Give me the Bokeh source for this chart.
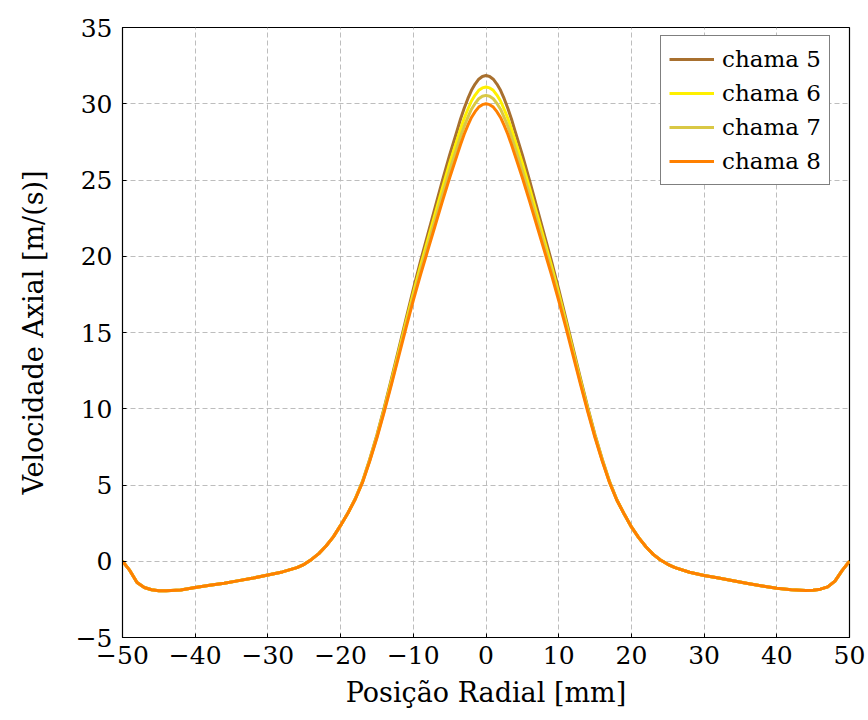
from bokeh.plotting import figure
from bokeh.models import Range1d, FixedTicker, Legend, LegendItem
from bokeh.embed import file_html
from bokeh.resources import INLINE

# ---- data ----
X_LEFT = [-50, -49, -48, -47, -46, -45, -44, -42, -40, -38, -36, -34, -32, -30,
          -28, -26, -25, -24, -23, -22, -21, -20]
Y_LEFT = [0.0, -0.6, -1.4, -1.72, -1.87, -1.93, -1.94, -1.88, -1.72, -1.58, -1.44,
          -1.27, -1.1, -0.9, -0.7, -0.42, -0.2, 0.12, 0.5, 1.0, 1.6, 2.35]

X_CORE = [-19, -18, -17, -16, -15, -14, -13, -12, -11, -10, -9, -8, -7, -6, -5, -4,
          -3.5, -3, -2.5, -2, -1.5, -1, -0.5, 0, 0.5, 1, 1.5, 2, 2.5, 3, 3.5,
          4, 5, 6, 7, 8, 9, 10, 11, 12, 13, 14, 15, 16, 17, 18, 19]
CORE_5 = [3.16, 4.08, 5.22, 6.67, 8.29, 10.07, 11.97, 13.93, 15.9, 17.85, 19.7, 21.45,
          23.2, 24.95, 26.65, 28.2,
          29.0, 29.7, 30.33, 30.88, 31.29, 31.61, 31.79, 31.85, 31.79, 31.61, 31.29,
          30.88, 30.33, 29.7, 29.0,
          28.2, 26.65, 24.95, 23.2, 21.45, 19.7, 17.85, 15.9, 13.93, 11.97, 10.07,
          8.29, 6.67, 5.22, 4.03, 3.11]
CORE_6 = [3.15, 4.07, 5.2, 6.63, 8.22, 9.97, 11.84, 13.76, 15.69, 17.58, 19.38, 21.08,
          22.78, 24.47, 26.1, 27.6,
          28.35, 29.05, 29.64, 30.18, 30.57, 30.88, 31.04, 31.1, 31.04, 30.88, 30.57,
          30.18, 29.64, 29.05, 28.35,
          27.6, 26.1, 24.47, 22.78, 21.08, 19.38, 17.58, 15.69, 13.76, 11.84, 9.97,
          8.22, 6.63, 5.2, 4.02, 3.1]
CORE_7 = [3.15, 4.06, 5.17, 6.59, 8.16, 9.89, 11.72, 13.61, 15.5, 17.34, 19.09, 20.74,
          22.39, 24.04, 25.63, 27.11,
          27.85, 28.53, 29.11, 29.64, 30.02, 30.33, 30.49, 30.55, 30.49, 30.33, 30.02,
          29.64, 29.11, 28.53, 27.85,
          27.11, 25.63, 24.04, 22.39, 20.74, 19.09, 17.34, 15.5, 13.61, 11.72, 9.89,
          8.16, 6.59, 5.17, 4.01, 3.1]
CORE_8 = [3.15, 4.05, 5.15, 6.55, 8.1, 9.8, 11.6, 13.45, 15.3, 17.1, 18.8, 20.4,
          22.0, 23.6, 25.15, 26.6,
          27.33, 28.0, 28.58, 29.1, 29.48, 29.78, 29.94, 30.0, 29.94, 29.78, 29.48,
          29.1, 28.58, 28.0, 27.33,
          26.6, 25.15, 23.6, 22.0, 20.4, 18.8, 17.1, 15.3, 13.45, 11.6, 9.8,
          8.1, 6.55, 5.15, 4.0, 3.1]

X_RIGHT = [20, 21, 22, 23, 24, 25, 26, 28, 30, 32, 34, 36, 38, 40, 42, 44, 45, 46,
           47, 48, 49, 50]
Y_RIGHT = [2.25, 1.55, 0.95, 0.45, 0.08, -0.2, -0.42, -0.72, -0.93, -1.1, -1.28,
           -1.46, -1.62, -1.77, -1.87, -1.92, -1.9, -1.83, -1.68, -1.3, -0.6, 0.0]

SERIES_NAMES = ["chama 5", "chama 6", "chama 7", "chama 8"]
SERIES_CORES = [CORE_5, CORE_6, CORE_7, CORE_8]
SERIES_COLORS = ["#A8702F", "#FFF000", "#D9C845", "#FF8000"]

X_TICKS = list(range(-50, 51, 10))
Y_TICKS = list(range(-5, 36, 5))

FONT = "DejaVu Serif"

p = figure(width=868, height=720, output_backend="svg", toolbar_location=None,
           x_range=Range1d(-50, 50), y_range=Range1d(-5, 35),
           min_border_left=122, min_border_right=19, min_border_top=27,
           min_border_bottom=83)
p.background_fill_color = "white"
p.border_fill_color = "white"
p.outline_line_color = "black"
p.outline_line_width = 1.2
p.outline_line_alpha = 1.0

x_all = X_LEFT + X_CORE + X_RIGHT
items = []
for name, core, color in zip(SERIES_NAMES, SERIES_CORES, SERIES_COLORS):
    y_all = Y_LEFT + core + Y_RIGHT
    r = p.line(x_all, y_all, line_color=color, line_width=3, line_join="round")
    items.append(LegendItem(label=name, renderers=[r]))

def minus(v):
    return str(v).replace("-", "\u2212")

p.xaxis.ticker = FixedTicker(ticks=X_TICKS)
p.yaxis.ticker = FixedTicker(ticks=Y_TICKS)
p.xaxis.major_label_overrides = {v: minus(v) for v in X_TICKS}
p.yaxis.major_label_overrides = {v: minus(v) for v in Y_TICKS}
for ax in (p.xaxis[0], p.yaxis[0]):
    ax.major_label_text_font = FONT
    ax.major_label_text_font_size = "25px"
    ax.major_label_text_color = "black"
    ax.axis_label_text_font = FONT
    ax.axis_label_text_font_size = "27px"
    ax.axis_label_text_font_style = "normal"
    ax.axis_label_text_color = "black"
    ax.major_tick_in = 4
    ax.major_tick_out = 0
    ax.minor_tick_in = 0
    ax.minor_tick_out = 0
    ax.axis_line_color = "black"
    ax.major_tick_line_color = "black"
p.xaxis.axis_label = "Posição Radial [mm]"
p.yaxis.axis_label = "Velocidade Axial [m/(s)]"
p.xaxis.major_label_standoff = 8
p.yaxis.major_label_standoff = 10
p.xaxis.axis_label_standoff = 10
p.yaxis.axis_label_standoff = 24

for g in (p.xgrid[0], p.ygrid[0]):
    g.grid_line_color = "#bdbdbd"
    g.grid_line_dash = "5 3"
    g.grid_line_width = 1

legend = Legend(items=items, location=(538, 452), margin=0)
legend.label_text_font = FONT
legend.label_text_font_size = "23px"
legend.label_text_color = "black"
legend.glyph_width = 45
legend.glyph_height = 30
legend.label_height = 30
legend.spacing = 4
legend.padding = 8
legend.label_standoff = 8
legend.border_line_color = "black"
legend.border_line_width = 1
legend.background_fill_alpha = 1
p.add_layout(legend)

open("out.html", "w").write(file_html(p, INLINE))
